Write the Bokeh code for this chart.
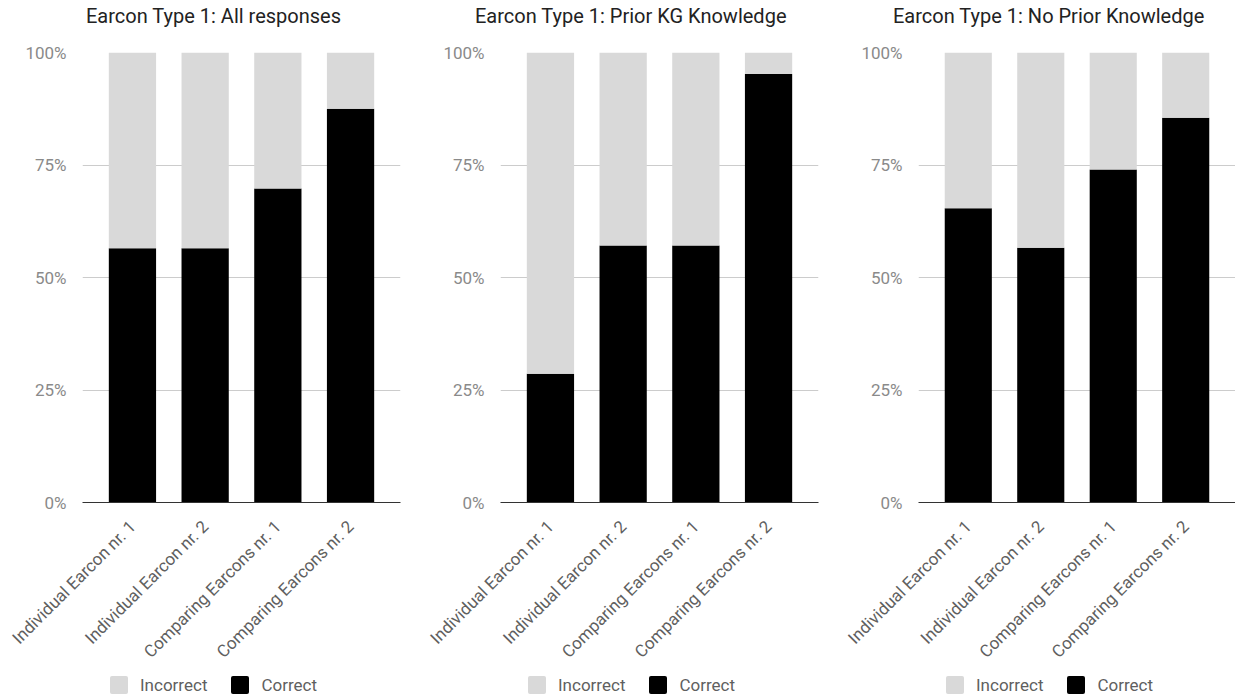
import math
from bokeh.plotting import figure
from bokeh.layouts import row, column
from bokeh.models import (ColumnDataSource, FactorRange, Range1d, FixedTicker,
                          CustomJSTickFormatter, Div)
from bokeh.embed import file_html
from bokeh.resources import INLINE

# Question categories
categories = ["Individual Earcon nr. 1", "Individual Earcon nr. 2",
              "Comparing Earcons nr. 1", "Comparing Earcons nr. 2"]

# Share of correct answers (%) per group
correct_all = [56.5, 56.5, 69.8, 87.5]
correct_prior = [28.6, 57.1, 57.1, 95.2]
correct_none = [65.4, 56.6, 74.0, 85.5]

titles = ["Earcon Type 1: All responses",
          "Earcon Type 1: Prior KG Knowledge",
          "Earcon Type 1: No Prior Knowledge"]

legend_labels = ["Incorrect", "Correct"]

y_ticks = [0, 25, 50, 75, 100]

FONT = "Roboto"
INCORRECT_COLOR = "#d9d9d9"
CORRECT_COLOR = "#000000"


def make_header(title, width, text_x):
    html = ('<div style="margin:0;padding:4px 0 0 %dpx;font-family:Roboto;font-size:20px;'
            'line-height:24px;color:#222222;white-space:nowrap">%s</div>' % (text_x, title))
    return Div(text=html, width=width, height=40, margin=0)


def make_chart(correct, frame_w, border_right):
    incorrect = [100 - c for c in correct]
    src = ColumnDataSource(dict(cat=categories, Correct=correct, Incorrect=incorrect))
    p = figure(x_range=FactorRange(*categories, range_padding=0.0935),
               y_range=Range1d(0, 100),
               frame_width=frame_w, frame_height=450,
               min_border_left=82, min_border_right=border_right,
               min_border_top=12, min_border_bottom=162,
               output_backend="svg", toolbar_location=None)
    p.outline_line_color = None
    p.background_fill_color = "white"

    p.vbar_stack(["Correct", "Incorrect"], x="cat", width=0.65,
                 color=[CORRECT_COLOR, INCORRECT_COLOR], line_color=None,
                 source=src)

    p.xgrid.grid_line_color = None
    p.ygrid.grid_line_color = "#cccccc"
    p.ygrid.ticker = FixedTicker(ticks=y_ticks)

    ya = p.yaxis[0]
    ya.ticker = FixedTicker(ticks=y_ticks)
    ya.formatter = CustomJSTickFormatter(code="return tick + '%';")
    ya.axis_line_color = None
    ya.major_tick_line_color = None
    ya.minor_tick_line_color = None
    ya.major_label_standoff = 10
    ya.major_label_text_font = FONT
    ya.major_label_text_font_size = "17px"
    ya.major_label_text_color = "#8a8a8a"

    xa = p.xaxis[0]
    xa.axis_line_color = "#333333"
    xa.axis_line_width = 1
    xa.major_tick_line_color = None
    xa.minor_tick_line_color = None
    xa.major_label_orientation = math.pi / 4
    xa.major_label_standoff = 15
    xa.major_label_text_font = FONT
    xa.major_label_text_font_size = "17px"
    xa.major_label_text_color = "#5f5f5f"
    return p


def make_legend(width):
    swatch = ('<span style="display:inline-block;width:18px;height:18px;border-radius:2px;'
              'background:%s;vertical-align:top;margin-left:%dpx"></span>')
    label = '<span style="display:inline-block;vertical-align:top;margin-left:12px">%s</span>'
    items = (swatch % (INCORRECT_COLOR, 0) + label % legend_labels[0] +
             swatch % (CORRECT_COLOR, 24) + label % legend_labels[1])
    html = ('<div style="margin:0;padding:5px 0 0 110px;font-family:Roboto;font-size:17px;'
            'line-height:18px;color:#5f5f5f;white-space:nowrap">%s</div>' % items)
    return Div(text=html, width=width, height=26, margin=0)


panels = []
for title, correct, width, frame_w, border_right, text_x in [
        (titles[0], correct_all, 418, 318, 18, 86),
        (titles[1], correct_prior, 418, 318, 18, 57),
        (titles[2], correct_none, 399, 317, 0, 57)]:
    panels.append(column(make_header(title, width, text_x),
                         make_chart(correct, frame_w, border_right),
                         make_legend(width), spacing=0))

layout = row(*panels, spacing=0)
open("out.html", "w").write(file_html(layout, INLINE))
